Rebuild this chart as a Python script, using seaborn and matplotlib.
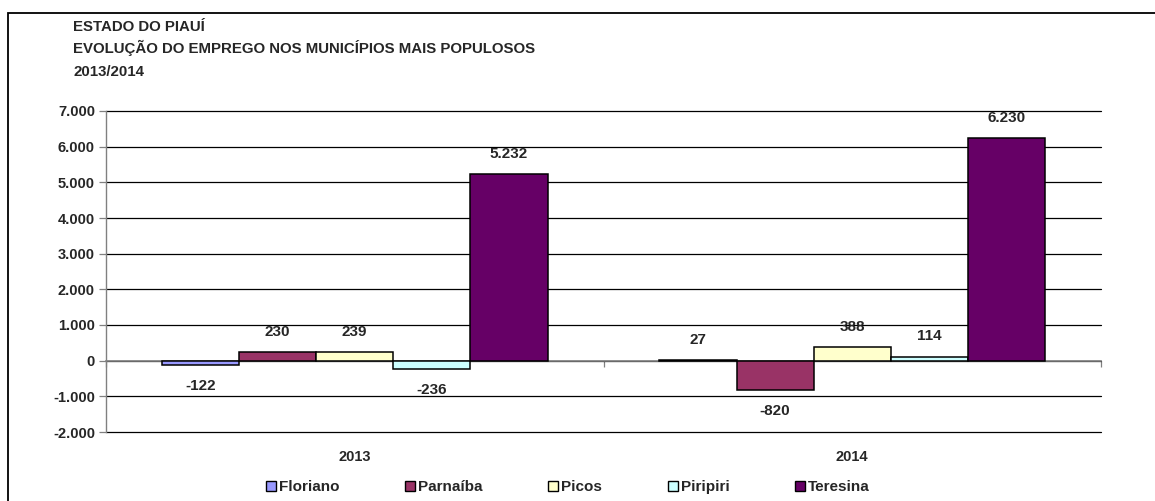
import matplotlib
matplotlib.use("Agg")
import matplotlib.pyplot as plt
import matplotlib.patches as mpatches
import matplotlib.transforms as mtransforms
import seaborn as sns
import pandas as pd

# Saldo de empregos por município e ano
anos = ["2013", "2014"]
municipios = ["Floriano", "Parnaíba", "Picos", "Piripiri", "Teresina"]
saldo_2013 = [-122, 230, 239, -236, 5232]
saldo_2014 = [27, -820, 388, 114, 6230]
cores = ["#9999FF", "#993366", "#FFFFCC", "#CCFFFF", "#660066"]
y_ticks = [-2000, -1000, 0, 1000, 2000, 3000, 4000, 5000, 6000, 7000]
titulo = ["ESTADO DO PIAUÍ",
          "EVOLUÇÃO DO EMPREGO NOS MUNICÍPIOS MAIS POPULOSOS",
          "2013/2014"]

df = pd.DataFrame({
    "Ano": [anos[0]] * len(municipios) + [anos[1]] * len(municipios),
    "Município": municipios * 2,
    "Saldo": saldo_2013 + saldo_2014,
})


def fmt(v):
    return f"{int(round(v)):,}".replace(",", ".")


sns.set_style("white")
plt.rcParams["font.family"] = ["Liberation Sans", "DejaVu Sans"]
plt.rcParams["font.weight"] = "bold"

W, H = 1155, 501
fig = plt.figure(figsize=(W / 100, H / 100), dpi=100)
ax = fig.add_axes([106 / W, 1 - 432 / H, (1101 - 106) / W, (432 - 111) / H])

sns.barplot(data=df, x="Ano", y="Saldo", hue="Município", order=anos,
            hue_order=municipios, palette=cores, width=0.775, gap=0,
            edgecolor="black", linewidth=1.1, saturation=1, ax=ax,
            legend=False, zorder=3)

ax.set_xlim(-0.5, 1.5)
ax.set_ylim(-2000, 7000)
ax.set_yticks(y_ticks)
ax.set_yticklabels([fmt(v) for v in y_ticks], fontsize=10.5,
                   fontweight="bold")
ax.yaxis.grid(True, color="black", linewidth=0.9, zorder=0)
for gl in ax.get_ygridlines():
    gl.set_clip_on(False)
ax.set_axisbelow(True)
ax.tick_params(axis="y", direction="out", length=5, width=0.9,
               color="#808080", pad=3, left=True)
ax.set_xlabel("")
ax.set_ylabel("")

for s in ["top", "right"]:
    ax.spines[s].set_visible(False)
ax.spines["left"].set_color("#808080")
ax.spines["left"].set_linewidth(1.0)
ax.spines["bottom"].set_position(("data", 0))
ax.spines["bottom"].set_color("#808080")
ax.spines["bottom"].set_linewidth(1.2)
ax.spines["bottom"].set_zorder(2)

# category boundary ticks on the zero line, year labels under the plot
ax.set_xticks([-0.5, 0.5, 1.5])
ax.set_xticklabels([])
ax.tick_params(axis="x", direction="out", length=4, width=0.9,
               color="#808080", bottom=True)
blend = mtransforms.blended_transform_factory(ax.transData, ax.transAxes)
for i, ano in enumerate(anos):
    ax.text(i, -0.078, ano, transform=blend, ha="center", va="center",
            fontsize=10.5, fontweight="bold")

# value labels above positive bars, below negative ones
for cont in ax.containers:
    for bar in cont:
        val = bar.get_height()
        off = 14.5 if val >= 0 else -15
        ax.annotate(fmt(val), (bar.get_x() + bar.get_width() / 2, val),
                    xytext=(0, off), textcoords="offset points",
                    ha="center", va="center", fontsize=11,
                    fontweight="bold", zorder=5)

# legend
handles = [mpatches.Patch(facecolor=c, edgecolor="black", linewidth=1.0)
           for c in cores]
fig.legend(handles, municipios, loc="center", ncol=5,
           bbox_to_anchor=(568 / W, 1 - 487 / H), frameon=False,
           prop={"size": 11, "weight": "bold"}, handlelength=0.65,
           handleheight=0.65, handletextpad=0.2, columnspacing=4.3,
           borderaxespad=0, borderpad=0)

# titles
ys = [27, 48, 72]
for t, y in zip(titulo, ys):
    fig.text(73 / W, 1 - y / H, t, ha="left", va="center", fontsize=10.8,
             fontweight="bold")

# outer frame of the chart area
fig.patches.append(mpatches.Rectangle((8 / W, -0.1), 1.2, 1 - 13 / H + 0.1,
                                      transform=fig.transFigure, fill=False,
                                      edgecolor="black", linewidth=1.3))

fig.savefig("out.png", dpi=100, facecolor="white")
